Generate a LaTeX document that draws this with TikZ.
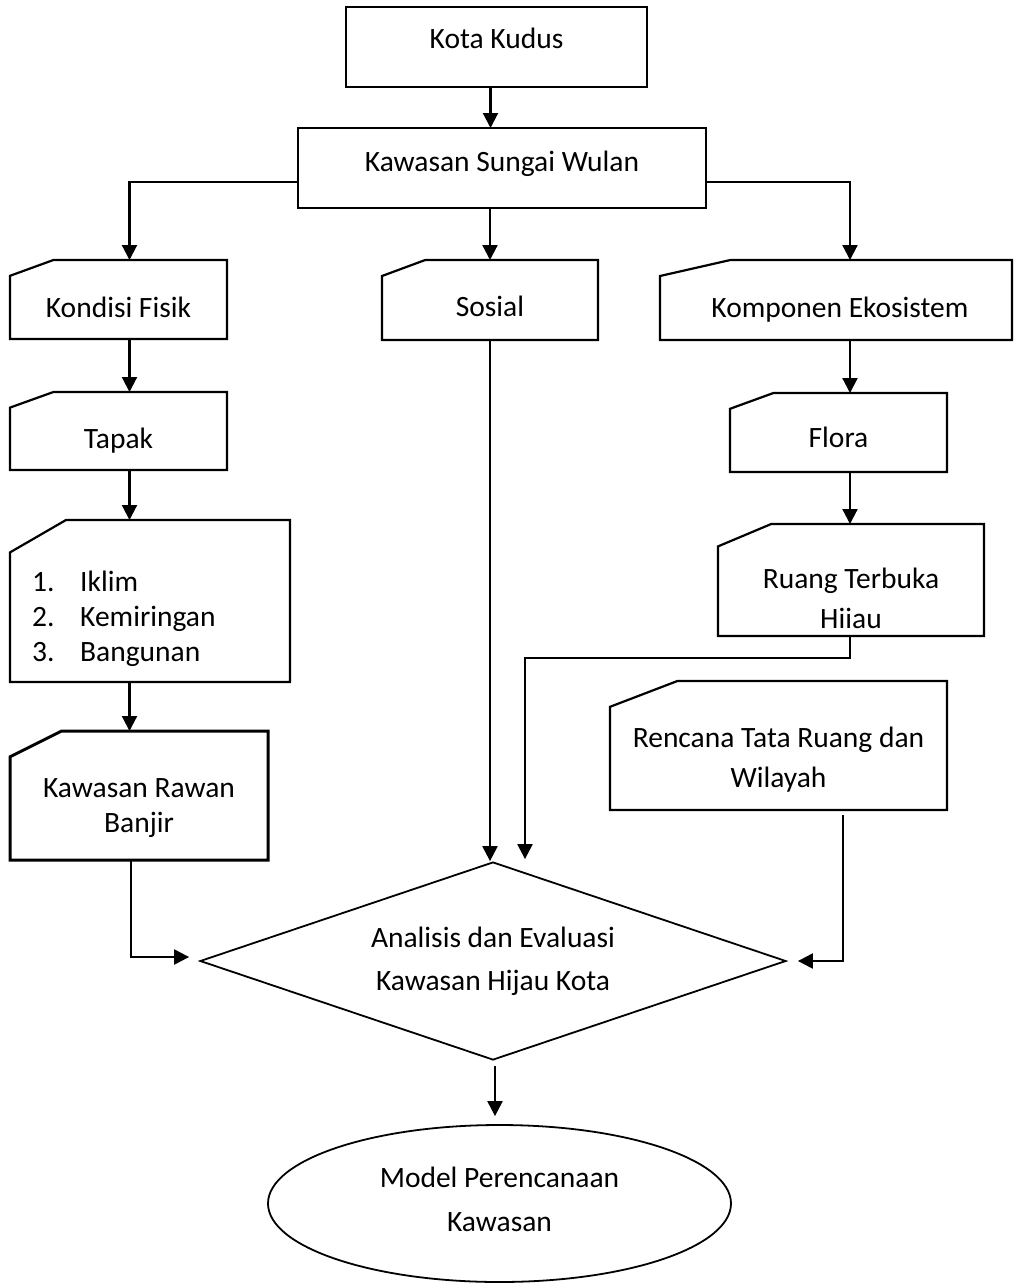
\documentclass[tikz,border=0pt]{standalone}
\usepackage{fontspec}
\setmainfont{Carlito}
\usetikzlibrary{arrows.meta,calc,shapes.geometric}

\tikzset{
  every node/.style={font=\fontsize{29.5}{35}\selectfont},
  every label/.style={inner sep=0pt, align=center},
  box/.style={draw, line width=2.2pt, inner sep=0pt, outer sep=0pt},
  card/.style={inner sep=0pt, outer sep=0pt},
  cardborder/.style={line width=2.2pt},
  arr/.style={line width=2.2pt, -{Triangle[length=15pt,width=15pt]}},
}

% outline of a card node: the top left corner is cut off
\newcommand{\cardline}[2][]{%
  \draw[cardborder,#1] ($(#2.north west)!0.2!(#2.south west)$)
    -- ($(#2.north west)!0.2!(#2.north east)$) -- (#2.north east)
    -- (#2.south east) -- (#2.south west) -- cycle;}

\begin{document}
\begin{tikzpicture}[x=1pt,y=-1pt]
  \useasboundingbox (0,0) rectangle (1016,1283);

  % top of the chart
  \node[box, minimum width=301pt, minimum height=80pt, label={[yshift=8.5pt]center:Kota Kudus}] (kota) at (496.5,47) {};
  \node[box, minimum width=408pt, minimum height=80pt, label={[yshift=4pt]center:Kawasan Sungai Wulan}] (sungai) at (502,168) {};

  % first row of cards
  \node[card, minimum width=217pt, minimum height=79pt, label={[yshift=-7.5pt]center:Kondisi Fisik}] (fisik) at (118.5,299.5) {};
  \node[card, minimum width=216pt, minimum height=80pt, label={[yshift=-6pt]center:Sosial}] (sosial) at (490,300) {};
  \node[card, minimum width=352pt, minimum height=80pt, label={[xshift=4pt,yshift=-9.5pt]center:Komponen Ekosistem}] (ekosistem) at (836,300) {};

  % left column
  \node[card, minimum width=217pt, minimum height=78pt, label={[yshift=-10pt]center:Tapak}] (tapak) at (118.5,431) {};
  \node[card, minimum width=280pt, minimum height=162pt,
        label={[anchor=west, xshift=22pt, yshift=-18pt, align=left]west:\makebox[48pt][l]{1.}Iklim\\\makebox[48pt][l]{2.}Kemiringan\\\makebox[48pt][l]{3.}Bangunan}] (iklim) at (150,601) {};
  \node[card, minimum width=258pt, minimum height=129pt, label={[yshift=-12.5pt]center:Kawasan Rawan\\Banjir}] (banjir) at (139,795.5) {};

  % right column
  \node[card, minimum width=217pt, minimum height=79pt, label={[yshift=-5pt]center:Flora}] (flora) at (838.5,432.5) {};
  \node[card, minimum width=266pt, minimum height=112pt, label={[yshift=-18pt]center:Ruang Terbuka\\[5pt]Hiiau}] (rth) at (851,580) {};
  \node[card, minimum width=337pt, minimum height=129pt, label={[yshift=-14pt]center:Rencana Tata Ruang dan\\[5pt]Wilayah}] (rtrw) at (778.5,745.5) {};

  % analysis and result
  \node[diamond, draw, line width=1.8pt, minimum width=586pt, minimum height=198pt, inner sep=0pt,
        label={center:Analisis dan Evaluasi\\[8pt]Kawasan Hijau Kota}] (analisis) at (493,961) {};
  \node[ellipse, draw, line width=1.8pt, minimum width=463pt, minimum height=157pt, inner sep=0pt,
        label={[yshift=4pt]center:Model Perencanaan\\[9pt]Kawasan}] (model) at (499.5,1203.5) {};

  \foreach \n in {fisik,sosial,ekosistem,tapak,iklim,flora,rth,rtrw}
    \cardline{\n};
  \cardline[line width=3pt]{banjir};

  % connectors
  \draw[arr] ([xshift=-6pt]kota.south) -- ([xshift=-6pt]kota.south |- sungai.north);
  \draw[arr] ([yshift=-14pt]sungai.west) -| ([xshift=11pt]fisik.north);
  \draw[arr] (sungai.south -| sosial.north) -- (sosial.north);
  \draw[arr] ([yshift=-14pt]sungai.east) -| ([xshift=14pt]ekosistem.north);

  \draw[arr] ([xshift=11pt]fisik.south) -- ([xshift=11pt]tapak.north);
  \draw[arr] ([xshift=11pt]tapak.south) -- ([xshift=11pt]tapak.south |- iklim.north);
  \draw[arr] ([xshift=11pt]tapak.south |- iklim.south) -- ([xshift=11pt]tapak.south |- banjir.north);

  \draw[arr] ([xshift=14pt]ekosistem.south) -- ([xshift=14pt]ekosistem.south |- flora.north);
  \draw[arr] ([xshift=11.5pt]flora.south) -- ([xshift=11.5pt]flora.south |- rth.north);

  \draw[arr] (sosial.south) -- (sosial.south |- analisis.north);
  \draw[arr] ([xshift=-1pt]rth.south) -- ++(0,22) -| ([xshift=32pt,yshift=2pt]analisis.north);
  \draw[arr] ([xshift=-8pt]banjir.south) |- ([xshift=-10pt,yshift=4pt]analisis.west);
  \draw[arr] ([xshift=64.5pt,yshift=-5pt]rtrw.south) |- ([xshift=11pt]analisis.east);

  \draw[arr] ([xshift=2pt,yshift=-5pt]analisis.south) -- ([xshift=2pt,yshift=8pt]analisis.south |- model.north);
\end{tikzpicture}
\end{document}
